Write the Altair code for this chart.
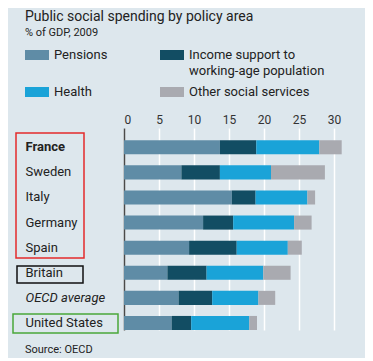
import altair as alt
import pandas as pd

# ---- data ----
countries = ["France", "Sweden", "Italy", "Germany", "Spain", "Britain",
             "OECD average", "United States"]
categories = ["Pensions", "Income support to working-age population",
              "Health", "Other social services"]
pensions = [13.7, 8.2, 15.4, 11.3, 9.3, 6.2, 7.8, 6.8]
income = [5.2, 5.5, 3.4, 4.3, 6.8, 5.6, 4.8, 2.8]
health = [9.0, 7.3, 7.4, 8.7, 7.3, 8.1, 6.6, 8.3]
other = [3.2, 7.7, 1.1, 2.5, 2.0, 3.9, 2.4, 1.1]
x_ticks = [0, 5, 10, 15, 20, 25, 30]
colors = ["#5f8ca6", "#124d63", "#1aa3d8", "#a9aab0"]

title_text = "Public social spending by policy area"
subtitle_text = "% of GDP, 2009"
source_text = "Source: OECD"
legend_lines = [["Pensions"], ["Income support to", "working-age population"],
                ["Health"], ["Other social services"]]

rows = []
for i, c in enumerate(countries):
    for j, (cat, vals) in enumerate(zip(categories, [pensions, income, health, other])):
        rows.append({"country": c, "category": cat, "value": vals[i], "order": j})
df = pd.DataFrame(rows)

# ---- layout (pixels relative to plot origin) ----
FONT = "Roboto"
TXT = "#222222"
W, H = 224, 202

bars = alt.Chart(df).mark_bar().encode(
    x=alt.X("value:Q", stack="zero",
            scale=alt.Scale(domain=[0, 32], nice=False),
            axis=alt.Axis(orient="top", values=x_ticks, title=None, domain=False,
                          ticks=False, tickSize=0, grid=True, gridColor="white",
                          gridWidth=1.5, labelPadding=2, labelFontSize=12,
                          labelColor="#333333", labelFont=FONT, format="d")),
    y=alt.Y("country:N", sort=countries,
            scale=alt.Scale(domain=countries, paddingInner=0.44,
                            paddingOuter=0.244, align=1),
            axis=alt.Axis(title=None, ticks=False, tickSize=0, labelAlign="left",
                          labelPadding=99, labelFontSize=13, labelColor=TXT,
                          labelFont=FONT, domain=True, domainColor="#4a4a4a",
                          domainWidth=1.5, grid=False,
                          labelFontWeight=alt.expr("datum.value == 'France' ? 'bold' : 'normal'"),
                          labelFontStyle=alt.expr("datum.value == 'OECD average' ? 'italic' : 'normal'"))),
    color=alt.Color("category:N", scale=alt.Scale(domain=categories, range=colors),
                    legend=None),
    order=alt.Order("order:Q"),
)

one = pd.DataFrame({"a": [0]})


def text(s, x, y, size, weight="normal", style="normal", color=TXT):
    return alt.Chart(one).mark_text(align="left", baseline="middle", font=FONT,
                                    fontSize=size, fontWeight=weight,
                                    fontStyle=style, color=color).encode(
        x=alt.value(x), y=alt.value(y), text=alt.value(s))


def rect(x, x2, y, y2, fill=None, stroke=None, sw=1.5):
    kw = {}
    if fill:
        kw["fill"] = fill
    else:
        kw["fillOpacity"] = 0
    if stroke:
        kw["stroke"] = stroke
        kw["strokeWidth"] = sw
    return alt.Chart(one).mark_rect(**kw).encode(
        x=alt.value(x), x2=alt.value(x2), y=alt.value(y), y2=alt.value(y2))


layers = [bars]
layers.append(text(title_text, -99, -111, 14))
layers.append(text(subtitle_text, -99, -95, 11))

sw_x = [-99, 36, -99, 36]
sw_y = [-73, -73, -36, -36]
for k in range(4):
    layers.append(rect(sw_x[k], sw_x[k] + 24, sw_y[k] - 5, sw_y[k] + 5, fill=colors[k]))
    for li, line in enumerate(legend_lines[k]):
        layers.append(text(line, sw_x[k] + 29, sw_y[k] + 16 * li, 13))

layers.append(text(source_text, -99, 222, 11))

layers.append(rect(-108, -40, 5, 130, stroke="#e32b2b"))
layers.append(rect(-107, -41, 138, 155, stroke="#111111"))
layers.append(rect(-111, -6, 186, 205, stroke="#4aa83a"))

chart = alt.layer(*layers).properties(
    width=W, height=H,
    padding={"left": 116, "top": 120, "right": 17, "bottom": 28},
    autosize=alt.AutoSizeParams(type="none"),
    background="#dde7ed",
).configure_view(stroke=None)

chart.save("out.html", embed_options={"renderer": "svg", "actions": False})
